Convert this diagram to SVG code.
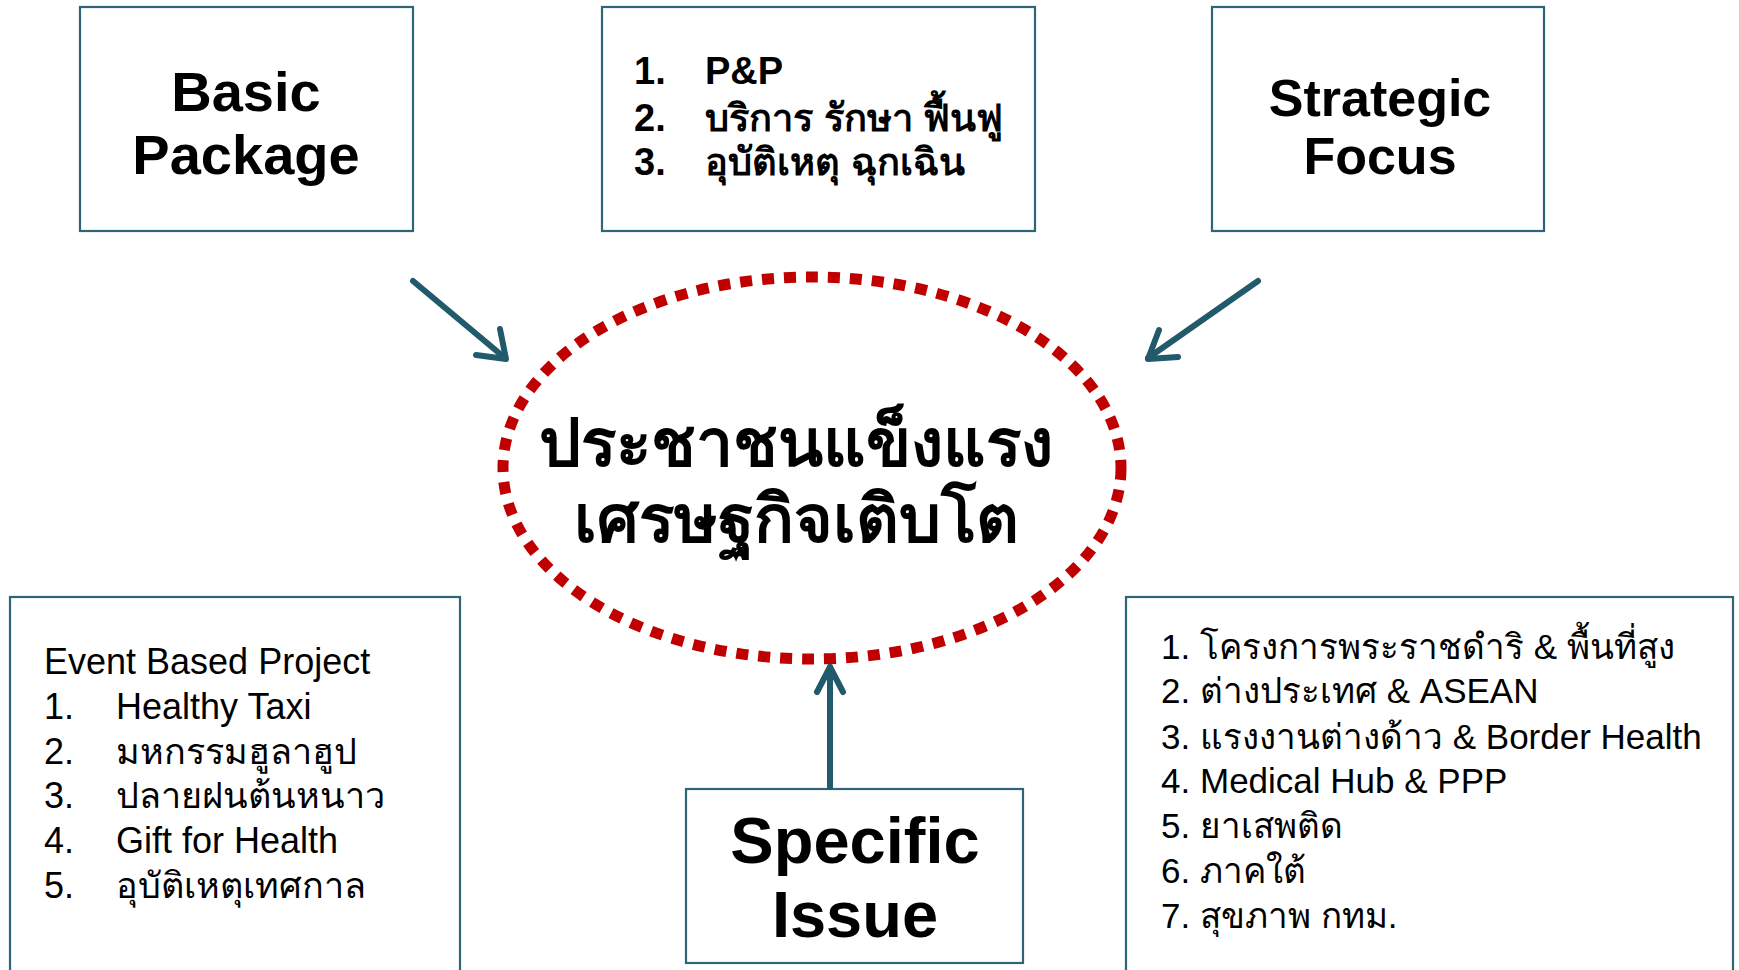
<svg xmlns="http://www.w3.org/2000/svg" width="1739" height="970" viewBox="0 0 1739 970">
<style>
.box{fill:#fff;stroke:#2E6577;stroke-width:2.2}
.t{font-family:"Liberation Sans","Noto Sans","Noto Sans CJK SC",sans-serif;fill:#000}
.b{font-weight:bold}
.c{text-anchor:middle}
.conn{stroke:#215A6A;stroke-width:6;fill:none;stroke-linecap:round}
.head{stroke:#215A6A;stroke-width:6;fill:none;stroke-linecap:round;stroke-linejoin:round}
</style>
<rect width="1739" height="970" fill="#fff"/>
<g id="center">
<ellipse cx="812" cy="468" rx="309" ry="191" fill="none" stroke="#C00000" stroke-width="11" stroke-dasharray="12 10"/>
<text class="t b c" x="796" y="466" font-size="66">ประชาชนแข็งแรง</text>
<text class="t b c" x="796" y="542" font-size="66">เศรษฐกิจเติบโต</text>
</g>
<g id="basic">
<rect class="box" x="80" y="7" width="333" height="224"/>
<text class="t b c" x="246" y="111" font-size="56">Basic</text>
<text class="t b c" x="246" y="174" font-size="56">Package</text>
</g>
<g id="services">
<rect class="box" x="602" y="7" width="433" height="224"/>
<text class="t b" x="634" y="84" font-size="38">1.</text>
<text class="t b" x="705" y="84" font-size="38">P&amp;P</text>
<text class="t b" x="634" y="131" font-size="38">2.</text>
<text class="t b" x="705" y="131" font-size="38">บริการ รักษา ฟื้นฟู</text>
<text class="t b" x="634" y="175" font-size="38">3.</text>
<text class="t b" x="705" y="175" font-size="38">อุบัติเหตุ ฉุกเฉิน</text>
</g>
<g id="strategic">
<rect class="box" x="1212" y="7" width="332" height="224"/>
<text class="t b c" x="1380" y="116" font-size="52">Strategic</text>
<text class="t b c" x="1380" y="174" font-size="52">Focus</text>
</g>
<g id="event">
<rect class="box" x="10" y="597" width="450" height="380"/>
<text class="t" x="44" y="674" font-size="36">Event Based Project</text>
<text class="t" x="44" y="719" font-size="36">1.</text><text class="t" x="116" y="719" font-size="36">Healthy Taxi</text>
<text class="t" x="44" y="764" font-size="36">2.</text><text class="t" x="116" y="764" font-size="36">มหกรรมฮูลาฮูป</text>
<text class="t" x="44" y="808" font-size="36">3.</text><text class="t" x="116" y="808" font-size="36">ปลายฝนต้นหนาว</text>
<text class="t" x="44" y="853" font-size="36">4.</text><text class="t" x="116" y="853" font-size="36">Gift for Health</text>
<text class="t" x="44" y="898" font-size="36">5.</text><text class="t" x="116" y="898" font-size="36">อุบัติเหตุเทศกาล</text>
</g>
<g id="areas">
<rect class="box" x="1126" y="597" width="607" height="380"/>
<text class="t" x="1161" y="659" font-size="35">1.</text><text class="t" x="1200" y="659" font-size="35">โครงการพระราชดำริ &amp; พื้นที่สูง</text>
<text class="t" x="1161" y="703" font-size="35">2.</text><text class="t" x="1200" y="703" font-size="35">ต่างประเทศ &amp; ASEAN</text>
<text class="t" x="1161" y="749" font-size="35">3.</text><text class="t" x="1200" y="749" font-size="35">แรงงานต่างด้าว &amp; Border Health</text>
<text class="t" x="1161" y="793" font-size="35">4.</text><text class="t" x="1200" y="793" font-size="35">Medical Hub &amp; PPP</text>
<text class="t" x="1161" y="838" font-size="35">5.</text><text class="t" x="1200" y="838" font-size="35">ยาเสพติด</text>
<text class="t" x="1161" y="883" font-size="35">6.</text><text class="t" x="1200" y="883" font-size="35">ภาคใต้</text>
<text class="t" x="1161" y="928" font-size="35">7.</text><text class="t" x="1200" y="928" font-size="35">สุขภาพ กทม.</text>
</g>
<g id="specific">
<rect class="box" x="686" y="789" width="337" height="174"/>
<text class="t b c" x="855" y="863" font-size="65">Specific</text>
<text class="t b c" x="855" y="937" font-size="65">Issue</text>
</g>
<g id="connectors">
<line class="conn" x1="413" y1="281" x2="505" y2="358"/>
<polyline class="head" points="476,355 506,359 500,329"/>
<line class="conn" x1="1258" y1="281" x2="1148" y2="358"/>
<polyline class="head" points="1159,330 1148,359 1178,357"/>
<line class="conn" x1="830" y1="787" x2="830" y2="667"/>
<polyline class="head" points="817,692 830,667 843,692"/>
</g>
</svg>
